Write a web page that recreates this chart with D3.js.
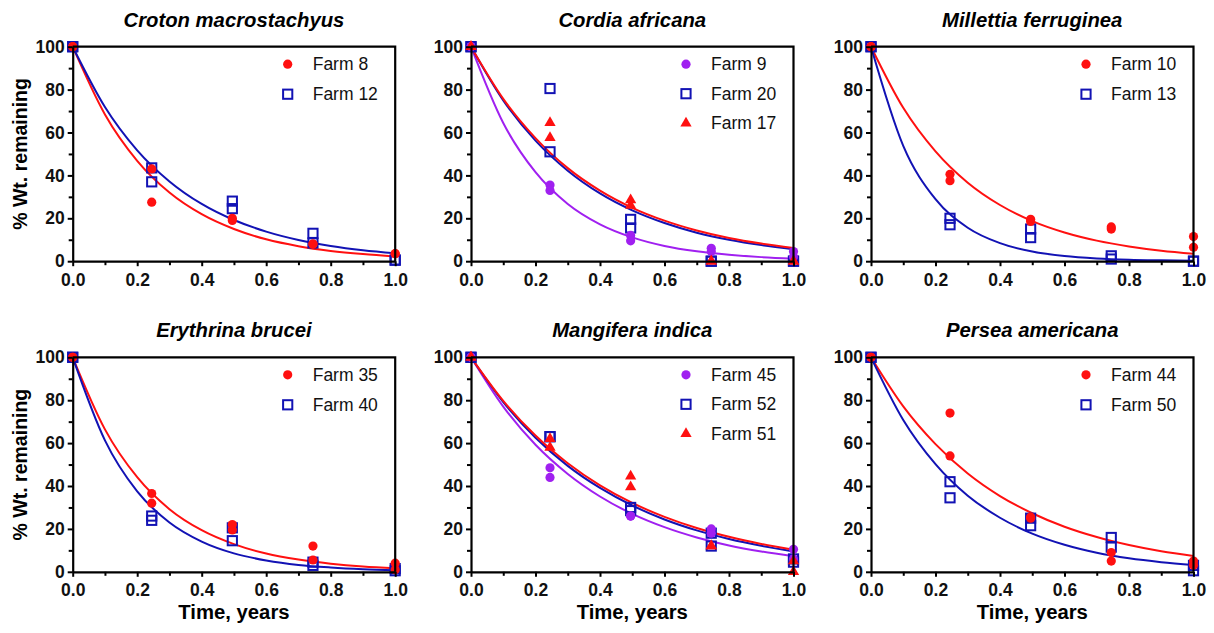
<!DOCTYPE html>
<html>
<head>
<meta charset="utf-8">
<script src="https://cdn.jsdelivr.net/npm/d3@7"></script>
<style>
  body { margin: 0; background: #fff; }
  svg { display: block; font-family: "Liberation Sans", Arial, sans-serif; }
</style>
</head>
<body>
<div id="vis"></div>
<script>
// sampling times (years) of the litter bags
const sampleTimes = [0, 0.245, 0.495, 0.745, 1.0];
const curveTimes = [0, 0.1, 0.2, 0.3, 0.4, 0.5, 0.6, 0.7, 0.8, 0.9, 1.0];

const speciesNames = ["Croton macrostachyus", "Cordia africana", "Millettia ferruginea",
  "Erythrina brucei", "Mangifera indica", "Persea americana"];

const xTicks = [0, 0.2, 0.4, 0.6, 0.8, 1.0];
const xMinorTicks = [0.1, 0.3, 0.5, 0.7, 0.9];
const yTicks = [0, 20, 40, 60, 80, 100];
const yMinorTicks = [10, 30, 50, 70, 90];

// % weight remaining, two replicates per sampling time
const farm8 = [[100, 100], [43, 27.5], [20, 19], [8, 8], [3.5, 3.5]];
const farm12 = [[100, 100], [43.5, 37], [28, 24.5], [13, 8.5], [0.5, 0.5]];
const farm9 = [[100, 100], [35.5, 33], [12, 9.5], [6, 4.5], [4.5, 2]];
const farm20 = [[100, 100], [80.5, 51], [19.5, 15.5], [0, 0], [0, 0]];
const farm17 = [[100, 100], [64.5, 57.5], [28.5, 26], [0, 0], [0, 0]];
const farm10 = [[100, 100], [40.5, 37.5], [19.5, 18.5], [16, 15], [11.5, 6.5]];
const farm13 = [[100, 100], [20, 17], [15, 11], [2.5, 1], [0, 0]];
const farm35 = [[100, 100], [36.5, 32], [22, 19.5], [12, 5.5], [4, 1]];
const farm40 = [[100, 100], [26, 24], [20.5, 14.5], [4.5, 3], [1.5, 0.5]];
const farm45 = [[100, 100], [48.5, 44], [26, 26], [20, 18], [10.5, 6]];
const farm52 = [[100, 100], [63, 63], [30, 28.5], [18, 12], [6, 4.5]];
const farm51 = [[100, 100], [62, 58], [44.5, 39.5], [12, 12], [0, 5]];
const farm44 = [[100, 100], [74, 54], [25.5, 25], [9, 5], [5, 3]];
const farm50 = [[100, 100], [42, 34.5], [25, 21.5], [16, 11.5], [3, 0.5]];

// fitted single-exponential curves, read at curveTimes
const fit8 = [100, 68.4, 46.8, 32.0, 21.9, 15.0, 10.2, 7.0, 4.8, 3.3, 2.2];
const fit12 = [100, 71.9, 51.7, 37.2, 26.7, 19.2, 13.8, 9.9, 7.1, 5.1, 3.7];
const fit9 = [100, 64.4, 41.5, 26.7, 17.2, 11.1, 7.1, 4.6, 3.0, 1.9, 1.2];
const fit20 = [100, 75.0, 56.2, 42.2, 31.6, 23.7, 17.8, 13.3, 10.0, 7.5, 5.6];
const fit17 = [100, 75.7, 57.4, 43.4, 32.9, 24.9, 18.9, 14.3, 10.8, 8.2, 6.2];
const fit10 = [100, 71.5, 51.2, 36.6, 26.2, 18.7, 13.4, 9.6, 6.9, 4.9, 3.5];
const fit13 = [100, 53.8, 28.9, 15.6, 8.4, 4.5, 2.4, 1.3, 0.7, 0.4, 0.2];
const fit35 = [100, 66.4, 44.1, 29.2, 19.4, 12.9, 8.5, 5.7, 3.8, 2.5, 1.7];
const fit40 = [100, 61.3, 37.5, 23.0, 14.1, 8.6, 5.3, 3.2, 2.0, 1.2, 0.7];
const fit45 = [100, 77.0, 59.2, 45.6, 35.1, 27.0, 20.8, 16.0, 12.3, 9.5, 7.3];
const fit52 = [100, 79.1, 62.5, 49.4, 39.1, 30.9, 24.4, 19.3, 15.3, 12.1, 9.5];
const fit51 = [100, 79.7, 63.5, 50.6, 40.3, 32.1, 25.6, 20.4, 16.3, 13.0, 10.3];
const fit44 = [100, 77.1, 59.5, 45.8, 35.3, 27.3, 21.0, 16.2, 12.5, 9.6, 7.4];
const fit50 = [100, 70.8, 50.2, 35.5, 25.2, 17.8, 12.6, 8.9, 6.3, 4.5, 3.2];

const RED = "#ff1010", BLUE = "#1212b4", PURPLE = "#a020f0";

// series per panel, in legend order
const panelSeries = [
  [{ name: "Farm 8", shape: "circle", color: RED, pts: farm8, fit: fit8 },
   { name: "Farm 12", shape: "square", color: BLUE, pts: farm12, fit: fit12 }],
  [{ name: "Farm 9", shape: "circle", color: PURPLE, pts: farm9, fit: fit9 },
   { name: "Farm 20", shape: "square", color: BLUE, pts: farm20, fit: fit20 },
   { name: "Farm 17", shape: "triangle", color: RED, pts: farm17, fit: fit17 }],
  [{ name: "Farm 10", shape: "circle", color: RED, pts: farm10, fit: fit10 },
   { name: "Farm 13", shape: "square", color: BLUE, pts: farm13, fit: fit13 }],
  [{ name: "Farm 35", shape: "circle", color: RED, pts: farm35, fit: fit35 },
   { name: "Farm 40", shape: "square", color: BLUE, pts: farm40, fit: fit40 }],
  [{ name: "Farm 45", shape: "circle", color: PURPLE, pts: farm45, fit: fit45 },
   { name: "Farm 52", shape: "square", color: BLUE, pts: farm52, fit: fit52 },
   { name: "Farm 51", shape: "triangle", color: RED, pts: farm51, fit: fit51 }],
  [{ name: "Farm 44", shape: "circle", color: RED, pts: farm44, fit: fit44 },
   { name: "Farm 50", shape: "square", color: BLUE, pts: farm50, fit: fit50 }]
];

const W = 1214, H = 633;
const colLeft = [72.7, 471, 871];
const rowTop = [46.7, 357.3];
const pw = 322.5, ph = 214.5;

const svg = d3.select("#vis").append("svg")
  .attr("width", W)
  .attr("height", H);

const x = d3.scaleLinear().domain([0, 1]).range([0, pw]);
const y = d3.scaleLinear().domain([0, 100]).range([ph, 0]);

const line = d3.line()
  .x((d, i) => x(curveTimes[i]))
  .y(d => y(d))
  .curve(d3.curveMonotoneX);

function drawMarker(sel, shape, color) {
  if (shape === "circle") {
    sel.append("circle").attr("r", 4.6).attr("fill", color);
  } else if (shape === "square") {
    sel.append("rect")
      .attr("x", -4.6).attr("y", -4.6)
      .attr("width", 9.2).attr("height", 9.2)
      .attr("fill", "none")
      .attr("stroke", color)
      .attr("stroke-width", 2);
  } else {
    sel.append("path")
      .attr("d", d3.symbol(d3.symbolTriangle, 55)())
      .attr("fill", color);
  }
}

speciesNames.forEach((title, p) => {
  const col = p % 3, row = Math.floor(p / 3);
  const g = svg.append("g")
    .attr("transform", `translate(${colLeft[col]},${rowTop[row]})`);
  const series = panelSeries[p];

  // curves
  series.forEach(s => {
    g.append("path")
      .datum(s.fit)
      .attr("fill", "none")
      .attr("stroke", s.color)
      .attr("stroke-width", 2)
      .attr("d", line);
  });

  // points: squares first so the filled markers sit on top
  const order = series.slice().sort((a, b) => (b.shape === "square") - (a.shape === "square"));
  order.forEach(s => {
    const flat = [];
    s.pts.forEach((reps, i) => reps.forEach(v => flat.push([sampleTimes[i], v])));
    flat.forEach(d => {
      const m = g.append("g").attr("transform", `translate(${x(d[0])},${y(d[1])})`);
      drawMarker(m, s.shape, s.color);
    });
  });

  // axes
  const xAxis = g.append("g")
    .attr("transform", `translate(0,${ph})`)
    .call(d3.axisBottom(x).tickValues(xTicks).tickFormat(d3.format(".1f")).tickSize(5).tickSizeOuter(0).tickPadding(7));
  g.append("g")
    .attr("transform", `translate(0,${ph})`)
    .call(d3.axisBottom(x).tickValues(xMinorTicks).tickFormat("").tickSize(4).tickSizeOuter(0))
    .select(".domain").remove();
  const yAxis = g.append("g")
    .call(d3.axisLeft(y).tickValues(yTicks).tickSize(5).tickSizeOuter(0).tickPadding(3));
  g.append("g")
    .call(d3.axisLeft(y).tickValues(yMinorTicks).tickFormat("").tickSize(4).tickSizeOuter(0))
    .select(".domain").remove();

  g.selectAll(".tick line").attr("stroke-width", 2);
  g.selectAll(".domain").attr("stroke-width", 2.2);
  [xAxis, yAxis].forEach(a => a.selectAll("text")
    .attr("font-family", "Liberation Sans, Arial, sans-serif")
    .attr("font-size", 17.5)
    .attr("font-weight", "bold")
    .attr("fill", "#111"));

  // frame top and right
  g.append("path")
    .attr("d", `M0,0H${pw}V${ph}`)
    .attr("fill", "none")
    .attr("stroke", "#000")
    .attr("stroke-width", 2.2);

  // title
  g.append("text")
    .attr("x", pw / 2)
    .attr("y", -20)
    .attr("text-anchor", "middle")
    .attr("font-size", 20.3)
    .attr("font-weight", "bold")
    .attr("font-style", "italic")
    .text(title);

  // legend
  const lg = series.length === 3 ? 29.5 : 30;
  series.forEach((s, i) => {
    const ly = 17.5 + i * lg;
    const m = g.append("g").attr("transform", `translate(215,${ly})`);
    drawMarker(m, s.shape, s.color);
    g.append("text")
      .attr("x", 240)
      .attr("y", ly + 6)
      .attr("font-size", 17.5)
      .attr("fill", "#111")
      .text(s.name);
  });

  if (col === 0) {
    g.append("text")
      .attr("transform", "rotate(-90)")
      .attr("x", -ph / 2)
      .attr("y", -46)
      .attr("text-anchor", "middle")
      .attr("font-size", 19.5)
      .attr("font-weight", "bold")
      .text("% Wt. remaining");
  }
  if (row === 1) {
    g.append("text")
      .attr("x", pw / 2)
      .attr("y", ph + 47)
      .attr("text-anchor", "middle")
      .attr("font-size", 20.3)
      .attr("font-weight", "bold")
      .text("Time, years");
  }
});
</script>
</body>
</html>
